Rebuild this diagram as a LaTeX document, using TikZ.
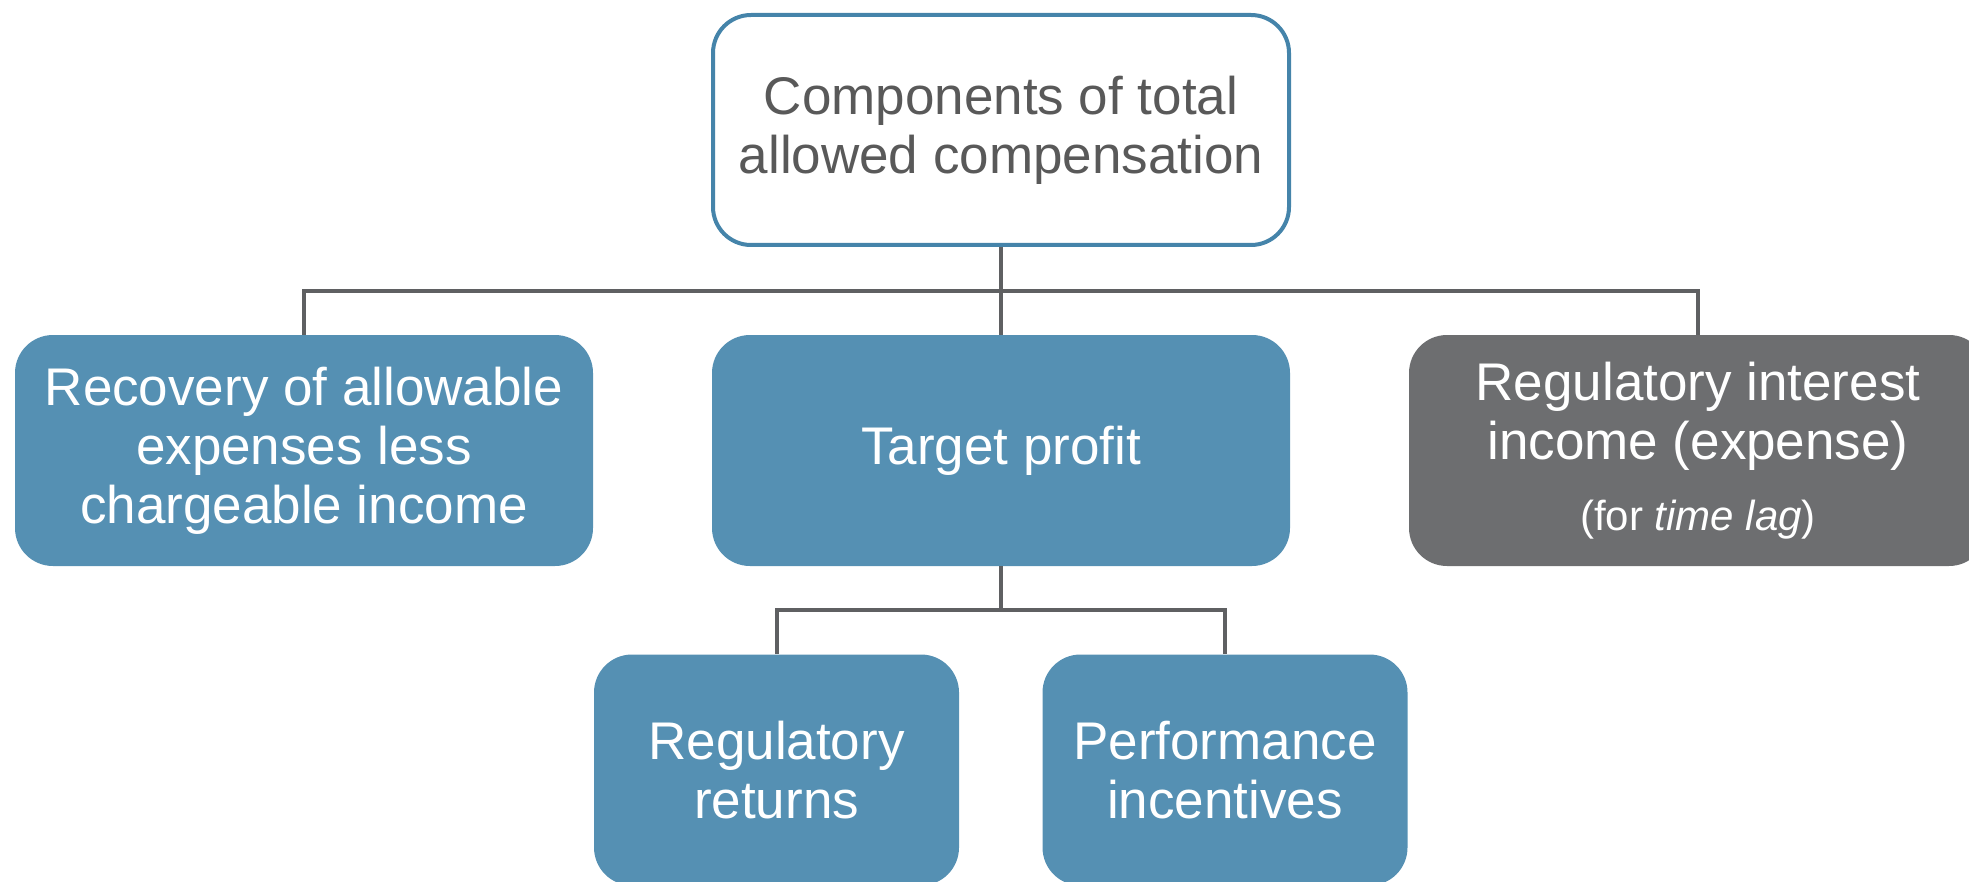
\documentclass[tikz,border=0pt]{standalone}
\usepackage{fontspec}
\setmainfont{Liberation Sans}
\usepackage{tikz}

\definecolor{boxblue}{HTML}{5590B3}
\definecolor{boxgray}{HTML}{6D6E70}
\definecolor{rimblue}{HTML}{4584AA}
\definecolor{linkgray}{HTML}{5F6062}
\definecolor{textgray}{HTML}{595959}

\tikzset{
  part/.style={rectangle, rounded corners=19pt, align=center, inner sep=0pt,
    minimum width=289pt, minimum height=115.5pt,
    font=\fontsize{26.5}{29.5}\selectfont},
  bluepart/.style={part, fill=boxblue, text=white},
  graypart/.style={part, fill=boxgray, text=white},
  link/.style={draw=linkgray, line width=2pt}
}

\begin{document}
\begin{tikzpicture}[x=0.5pt,y=-0.5pt]

\useasboundingbox (0,0) rectangle (1969,882);
\clip (0,0) rectangle (1969,882);

% top node
\node[part, draw=rimblue, line width=2pt, fill=white, text=textgray,
  minimum width=288pt, minimum height=115pt] (total) at (1001,130)
  {Components of total\\allowed compensation};

% second row
\node[bluepart] (recovery) at (304,450.5)
  {Recovery of allowable\\expenses less\\chargeable income};
\node[bluepart] (target) at (1001,450.5) {Target profit};
\node[graypart] (interest) at (1698,450.5)
  {Regulatory interest\\income (expense)\\[6pt]
   {\fontsize{21}{25}\selectfont (for \textit{time lag})}};

% third row
\node[bluepart, minimum width=182.5pt] (returns) at (776.5,770)
  {Regulatory\\returns};
\node[bluepart, minimum width=182.5pt] (incentives) at (1225,770)
  {Performance\\incentives};

% connectors
\coordinate (bus) at (1001,291);
\coordinate (subbus) at (1001,610);

\draw[link] (total) -- (target);
\draw[link] (recovery.north) |- (bus) -| (interest.north);

\draw[link] (target) -- (subbus);
\draw[link] (returns.north) |- (subbus) -| (incentives.north);

\end{tikzpicture}
\end{document}
